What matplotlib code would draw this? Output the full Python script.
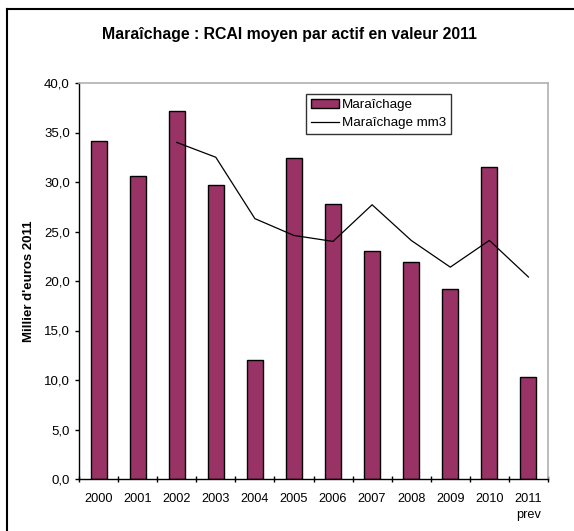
import matplotlib.pyplot as plt
from matplotlib.lines import Line2D
from matplotlib.ticker import FuncFormatter, FixedLocator
import numpy as np

plt.rcParams['font.family'] = ['Liberation Sans', 'DejaVu Sans']

years = ["2000", "2001", "2002", "2003", "2004", "2005", "2006", "2007", "2008", "2009", "2010", "2011\nprev"]
rcai = [34.1, 30.6, 37.2, 29.7, 12.0, 32.4, 27.8, 23.0, 21.9, 19.2, 31.5, 10.3]
# moyenne mobile 3 ans, debut en 2002
mm3 = [34.0, 32.5, 26.3, 24.6, 24.0, 27.7, 24.1, 21.4, 24.1, 20.4]
mm3_start = 2

fig = plt.figure(figsize=(5.74, 5.31), dpi=100)
ax = fig.add_axes([79/574, 52/531, 469/574, 396/531])

x = np.arange(len(years))
bars = ax.bar(x, rcai, width=0.41, color="#993366", edgecolor="black", linewidth=1.0,
              label="Maraîchage", zorder=2)
line, = ax.plot(x[mm3_start:], mm3, color="black", linewidth=0.9, label="Maraîchage mm3", zorder=3)

ax.set_xlim(-0.5, len(years) - 0.5)
ax.set_ylim(0, 40)
ax.set_yticks(np.arange(0, 41, 5))
ax.yaxis.set_major_formatter(FuncFormatter(lambda v, p: f"{v:.1f}".replace(".", ",")))

# x: ticks aux limites des categories, labels au centre
ax.xaxis.set_major_locator(FixedLocator(np.arange(-0.5, len(years), 1)))
ax.xaxis.set_minor_locator(FixedLocator(x))
ax.set_xticklabels([], minor=False)
ax.set_xticklabels(years, minor=True, linespacing=1.45)
ax.tick_params(axis="x", which="major", direction="inout", length=5, width=1)
ax.tick_params(axis="x", which="minor", length=0, pad=10, labelsize=9.2)
ax.tick_params(axis="y", direction="out", length=3, width=1, labelsize=9.5, pad=3.6)

for s in ["top", "right"]:
    ax.spines[s].set_color("#b0b0b0")
    ax.spines[s].set_linewidth(1.2)
for s in ["left", "bottom"]:
    ax.spines[s].set_color("black")
    ax.spines[s].set_linewidth(1.0)

fig.text(29/574, 1 - 281/531, "Millier d'euros 2011", rotation=90, ha="center", va="center",
         fontsize=9.5, fontweight="bold")
fig.text(290/574, 1 - 35/531, "Maraîchage : RCAI moyen par actif en valeur 2011",
         ha="center", va="center", fontsize=11.4, fontweight="bold")

leg = ax.legend([bars, line], ["Maraîchage", "Maraîchage mm3"], loc="upper left",
                bbox_to_anchor=(306/574, 1 - 94/531), bbox_transform=fig.transFigure,
                fontsize=9.6, frameon=True, fancybox=False, borderpad=0.35, handlelength=2.1,
                handletextpad=0.25, labelspacing=0.45, borderaxespad=0)
leg.get_frame().set_edgecolor("black")
leg.get_frame().set_linewidth(1.0)

# cadre exterieur (haut et gauche visibles)
fig.lines.append(Line2D([7/574, 7/574], [0, 1 - 9/531], transform=fig.transFigure, color="black", linewidth=1.5))
fig.lines.append(Line2D([7/574, 1], [1 - 9/531, 1 - 9/531], transform=fig.transFigure, color="black", linewidth=1.5))

plt.savefig("out.png", dpi=100)
